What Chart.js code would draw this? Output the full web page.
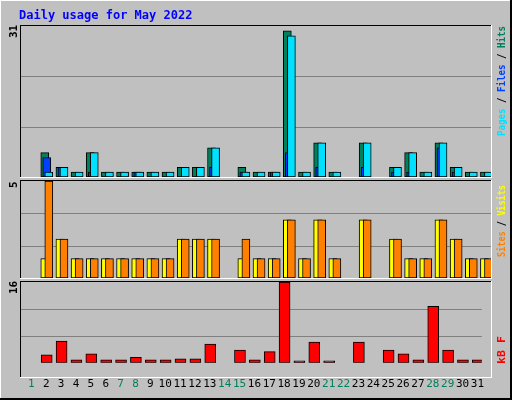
<!DOCTYPE html>
<html><head><meta charset="utf-8">
<script src="https://cdn.jsdelivr.net/npm/chart.js@4"></script>
<style>
body{margin:0;background:#fff;width:512px;height:400px;overflow:hidden}
canvas{position:absolute}
</style></head><body>
<canvas id="bg" width="512" height="400" style="left:0;top:0"></canvas>
<div style="position:absolute;left:21px;top:26px;width:470px;height:151px"><canvas id="c1"></canvas></div>
<div style="position:absolute;left:21px;top:181px;width:470px;height:97px"><canvas id="c2"></canvas></div>
<div style="position:absolute;left:21px;top:282px;width:470px;height:116px"><canvas id="c3"></canvas></div>
<script>
const days = [1,2,3,4,5,6,7,8,9,10,11,12,13,14,15,16,17,18,19,20,21,22,23,24,25,26,27,28,29,30,31];
const weekendDays = [1,7,8,14,15,21,22,28,29];
const hits  = [0,5,2,1,5,1,1,1,1,1,2,2,6,0,2,1,1,30,1,7,1,0,7,0,2,5,1,7,2,1,1];
const files = [0,4,2,0,1,0,0,1,0,0,0,0,2,0,1,0,1,5,0,2,0,0,2,0,1,1,0,6,1,0,0];
const pages = [0,1,2,1,5,1,1,1,1,1,2,2,6,0,1,1,1,29,1,7,1,0,7,0,2,5,1,7,2,1,1];
const visits= [0,1,2,1,1,1,1,1,1,1,2,2,2,0,1,1,1,3,1,3,1,0,3,0,2,1,1,3,2,1,1];
const sites = [0,5,2,1,1,1,1,1,1,1,2,2,2,0,2,1,1,3,1,3,1,0,3,0,2,1,1,3,2,1,1];
const kbytes= [0,1.6,4.3,0.6,1.8,0.6,0.6,1.1,0.6,0.6,0.8,0.8,3.7,0,2.5,0.6,2.2,16,0.4,4.1,0.4,0,4.1,0,2.5,1.8,0.6,11.2,2.5,0.6,0.6];
const maxTop=31, maxMid=5, maxBot=16;

const b=document.getElementById('bg').getContext('2d');
b.fillStyle='#c0c0c0';b.fillRect(0,0,512,400);
b.fillStyle='#fff';b.fillRect(0,0,512,1);b.fillRect(0,0,1,400);
b.fillStyle='#000';b.fillRect(0,398,512,2);b.fillRect(510,0,2,400);
function frame(x,y,w,h){b.fillStyle='#000';b.fillRect(x-1,y-1,w+1,1);b.fillRect(x-1,y-1,1,h+1);
 b.fillStyle='#fff';b.fillRect(x-1,y+h,w+2,1);b.fillRect(x+w,y-1,1,h+2);}
frame(21,26,470,151);frame(21,181,470,97);frame(21,282,470,95);
b.font='bold 12px "DejaVu Sans Mono"';b.fillStyle='#0000ff';b.textBaseline='alphabetic';
b.fillText('Daily usage for May 2022',19,19);
function vtext(x,y,parts,len){b.save();b.translate(x,y);b.rotate(-Math.PI/2);b.font='bold 11px "DejaVu Sans Mono"';b.textBaseline='middle';
 const full=parts.map(p=>p[0]).join('');const w=b.measureText(full).width;if(len)b.scale(len/w,1);
 let cx=0;for(const [t,c] of parts){b.fillStyle=c;b.fillText(t,cx,0);cx+=b.measureText(t).width;}b.restore();}
vtext(14,38,[['31','#000']]);vtext(14,188,[['5','#000']]);vtext(14,294,[['16','#000']]);
vtext(502,136,[['Pages','#00e0ff'],[' / ','#000'],['Files','#0040ff'],[' / ','#000'],['Hits','#00805c']],110);
vtext(502,257,[['Sites','#ff8000'],[' / ','#000'],['Visits','#ffff00']],72);
vtext(502,364,[['kB F','#ff0000']],28);

const grid={id:'grid',beforeDatasetsDraw(ch){const c=ch.ctx,y=ch.scales.y,a=ch.chartArea,m=ch.options.scales.y.max;
 c.save();c.strokeStyle='#808080';c.lineWidth=1;for(let i=1;i<3;i++){const p=Math.round(y.getPixelForValue(m*i/3))+0.5;
 c.beginPath();c.moveTo(a.left,p);c.lineTo(a.right,p);c.stroke();}c.restore();}};
function ds(vals,off,color,w){return {data:days.map((d,i)=>({x:d+off,y:vals[i]})),backgroundColor:color,borderColor:'#000',borderWidth:1,barThickness:w,grouped:false,borderSkipped:false};}
function make(id,max,sets,showX){
 return new Chart(document.getElementById(id),{type:'bar',data:{datasets:sets},plugins:[grid],
 options:{responsive:true,maintainAspectRatio:false,animation:false,layout:{padding:0},
 plugins:{legend:{display:false},tooltip:{enabled:false}},
 scales:{x:{type:'linear',offset:false,min:0.3,max:31.3,display:showX,grid:{display:false},border:{display:false},
  afterBuildTicks:s=>{s.ticks=days.map(v=>({value:v}));},
  ticks:{autoSkip:false,maxRotation:0,padding:7,font:{family:'DejaVu Sans Mono',size:11},
   color:c=>weekendDays.includes(days[c.index])?'#00805c':'#000',callback:(v,i)=>String(days[i])}},
 y:{min:0,max:max,display:false}}}});
}
make('c1',maxTop,[ds(pages,2/15,'#00e0ff',8),ds(files,0,'#0040ff',8),ds(hits,-2/15,'#00805c',8)],false);
make('c2',maxMid,[ds(sites,2/15,'#ff8000',8),ds(visits,-2/15,'#ffff00',8)],false);
make('c3',maxBot,[ds(kbytes,0.03,'#ff0000',11)],true);
</script></body></html>
